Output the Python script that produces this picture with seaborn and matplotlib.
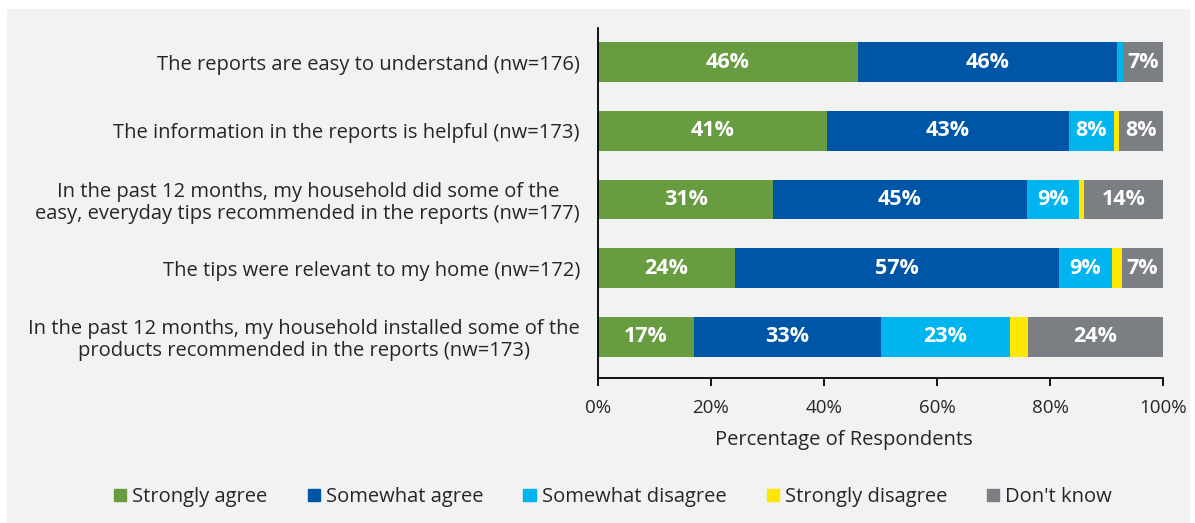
import numpy as np
import pandas as pd
import matplotlib
matplotlib.use("Agg")
import matplotlib.pyplot as plt
import seaborn as sns

categories = [
    "The reports are easy to understand (nw=176)",
    "The information in the reports is helpful (nw=173)",
    "In the past 12 months, my household did some of the\neasy, everyday tips recommended in the reports (nw=177)",
    "The tips were relevant to my home (nw=172)",
    "In the past 12 months, my household installed some of the\nproducts recommended in the reports (nw=173)",
]
series_names = ["Strongly agree", "Somewhat agree", "Somewhat disagree", "Strongly disagree", "Don't know"]
strongly_agree = [46.0, 40.6, 31.0, 24.2, 17.0]
somewhat_agree = [45.9, 42.7, 44.9, 57.4, 33.0]
somewhat_disagree = [1.1, 8.0, 9.2, 9.3, 22.9]
strongly_disagree = [0.0, 0.9, 0.9, 1.8, 3.2]
dont_know = [7.0, 7.9, 14.0, 7.3, 23.9]
tick_labels = ["0%", "20%", "40%", "60%", "80%", "100%"]

colors = ["#689C41", "#0056A6", "#00B4EF", "#FFE800", "#7B7E82"]
bg = "#F2F2F2"

sns.set_theme(style="white")
plt.rcParams["font.family"] = ["Open Sans", "DejaVu Sans"]

df = pd.DataFrame({"category": categories})
vals = [strongly_agree, somewhat_agree, somewhat_disagree, strongly_disagree, dont_know]
cum = np.cumsum(np.array(vals), axis=0)

W, H = 1195, 523
fig = plt.figure(figsize=(11.95, 5.23), dpi=100, facecolor="white")
fig.patches.append(plt.Rectangle((7 / W, 0), (1190 - 7) / W, (H - 9) / H,
                                 transform=fig.transFigure, facecolor=bg, edgecolor="none", zorder=-10))
ax = fig.add_axes([598 / W, 1 - 378 / H, (1163 - 598) / W, (378 - 28) / H])
ax.set_facecolor(bg)
ax.patch.set_alpha(0)

for i in range(len(series_names) - 1, -1, -1):
    d = df.copy()
    d["x"] = cum[i]
    sns.barplot(data=d, x="x", y="category", color=colors[i], width=0.58,
                orient="h", ax=ax, saturation=1, linewidth=0)

for i in range(len(series_names)):
    for j in range(len(categories)):
        v = vals[i][j]
        if v >= 5:
            center = cum[i][j] - v / 2
            ax.text(center, j, f"{int(round(v))}%", ha="center", va="center",
                    color="white", fontsize=15.5, fontweight="bold")

ax.set_xlim(0, 100)
ax.set_ylim(len(categories) - 0.5 + 0.1, -0.5)
ax.set_xticks([0, 20, 40, 60, 80, 100])
ax.set_xticklabels(tick_labels, fontsize=13.5)
ax.set_ylabel("")
ax.set_xlabel("Percentage of Respondents", fontsize=14.5)
ax.xaxis.set_label_coords((844 - 598) / 565, -(440 - 378) / (378 - 28), transform=ax.transAxes)
ax.xaxis.label.set_va("center")
ax.set_yticks(range(len(categories)))
ax.set_yticklabels(categories, fontsize=14.5, multialignment="center", linespacing=1.1)
ax.tick_params(axis="y", length=0, pad=13)
ax.tick_params(axis="x", direction="out", length=6, width=1.3, color="black", bottom=True, pad=9)
for s in ["top", "right"]:
    ax.spines[s].set_visible(False)
ax.spines["left"].set_color("black")
ax.spines["bottom"].set_color("black")
ax.spines["left"].set_linewidth(1.3)
ax.spines["bottom"].set_linewidth(1.3)

handles = [plt.Rectangle((0, 0), 1, 1, color=c) for c in colors]
fig.legend(handles, series_names, loc="center", bbox_to_anchor=(0.513, 1 - 497 / H), ncol=5,
           frameon=False, fontsize=14.5, handlelength=0.6, handleheight=0.6,
           handletextpad=0.3, columnspacing=2.0)

fig.savefig("out.png", dpi=100, facecolor="white")
